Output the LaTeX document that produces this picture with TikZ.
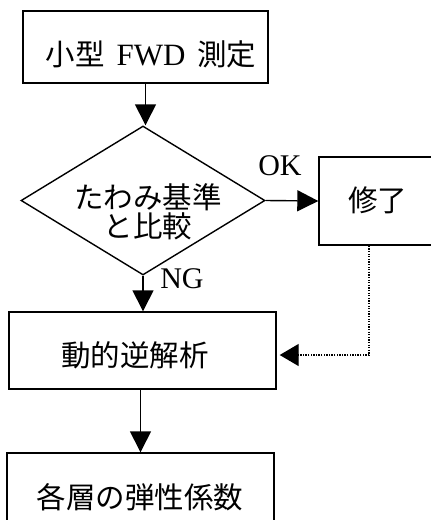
\documentclass[tikz,border=0pt]{standalone}
\usepackage{fontspec}
\setmainfont{Liberation Serif}
\newfontfamily\jp{Noto Sans CJK JP}
\usetikzlibrary{shapes.geometric,arrows.meta,calc}
\begin{document}
\begin{tikzpicture}[x=1pt,y=-1pt,
  box/.style={draw, line width=1.4pt, rectangle, inner sep=0pt},
  txt/.style={inner sep=0pt, font=\fontsize{29.5pt}{29pt}\selectfont\jp, align=center},
  lat/.style={inner sep=0pt, font=\fontsize{30pt}{30pt}\selectfont},
  arr/.style={line width=1.4pt, -{Triangle[length=21pt,width=21pt]}},
  dotarr/.style={line width=1.3pt, dash pattern=on 1.3pt off 1.3pt, -{Triangle[length=19pt,width=22pt]}, shorten >=3pt}]
\clip (0,0) rectangle (431,520);
% boxes
\node[box, minimum width=245pt, minimum height=72pt] (measure) at (145.5,47) {};
\node[draw, diamond, line width=1.4pt, minimum width=244pt, minimum height=149pt, inner sep=0pt] (cmp) at (143,200.5) {};
\node[box, minimum width=117pt, minimum height=88pt] (done) at (377.5,201) {};
\node[box, minimum width=267pt, minimum height=77pt] (analysis) at (142.5,350.5) {};
\node[box, minimum width=267pt, minimum height=88pt] (result) at (140.5,497) {};
% texts
\node[txt] (t1) at (151,54.5) {小型\hspace{0.4em}{\fontsize{31pt}{31pt}\selectfont\rmfamily FWD}\hspace{0.4em}測定};
\node[txt] (t2) at (148,212) {たわみ基準\\と比較};
\node[txt] (t3) at (377.5,200) {修了};
\node[txt] (t4) at (135,355) {動的逆解析};
\node[txt] (t5) at (140,497) {各層の弾性係数};
\node[lat] (ok) at (280,166) {OK};
\node[lat] (ng) at (182,279) {NG};
% connectors
\draw[arr] (measure.south) -- (measure.south |- cmp.north);
\draw[arr] (cmp.east) -- (done.west);
\draw[arr] (cmp.south) -- (cmp.south |- analysis.north);
\draw[arr] (result.north |- analysis.south) -- (result.north);
\draw[dotarr] ([xshift=-8.5pt]done.south) |- ([yshift=-4.5pt]analysis.east);
\end{tikzpicture}
\end{document}
